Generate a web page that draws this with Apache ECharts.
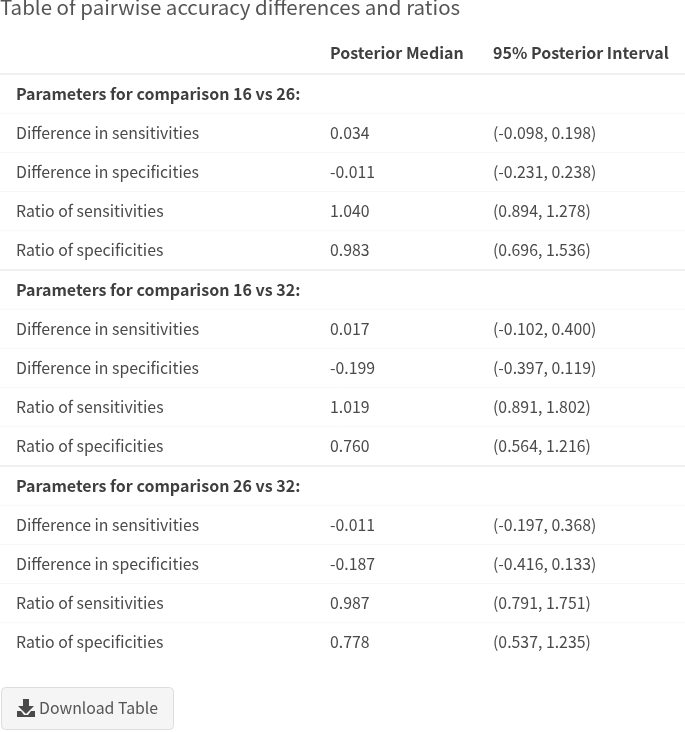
<!DOCTYPE html>
<html><head><meta charset="utf-8">
<style>html,body{margin:0;padding:0;background:#fff}#c{width:685px;height:732px}</style>
<script src="https://cdn.jsdelivr.net/npm/echarts@6/dist/echarts.min.js"></script>
</head><body><div id="c"></div>
<script>
const titleText = 'Table of pairwise accuracy differences and ratios';
const columnHeaders = ['', 'Posterior Median', '95% Posterior Interval'];
const rowLabels = [
  'Parameters for comparison 16 vs 26:',
  'Difference in sensitivities','Difference in specificities','Ratio of sensitivities','Ratio of specificities',
  'Parameters for comparison 16 vs 32:',
  'Difference in sensitivities','Difference in specificities','Ratio of sensitivities','Ratio of specificities',
  'Parameters for comparison 26 vs 32:',
  'Difference in sensitivities','Difference in specificities','Ratio of sensitivities','Ratio of specificities'
];
const medians = ['', '0.034','-0.011','1.040','0.983', '', '0.017','-0.199','1.019','0.760', '', '-0.011','-0.187','0.987','0.778'];
const intervals = ['', '(-0.098, 0.198)','(-0.231, 0.238)','(0.894, 1.278)','(0.696, 1.536)',
  '', '(-0.102, 0.400)','(-0.397, 0.119)','(0.891, 1.802)','(0.564, 1.216)',
  '', '(-0.197, 0.368)','(-0.416, 0.133)','(0.791, 1.751)','(0.537, 1.235)'];
const buttonText = 'Download Table';

const FONT = '"Noto Sans CJK SC","Source Sans Pro","Noto Sans",sans-serif';
const TXT = '#4a4a4a';
const colX = [16, 330, 493];
const rows = [columnHeaders].concat(rowLabels.map((l, i) => [l, medians[i], intervals[i]]));
const cats = rows.map((_, i) => 'r' + i);
const data = rows.map((r, i) => [i, r[0], r[1], r[2]]);

const chart = echarts.init(document.getElementById('c'), null, {renderer: 'canvas'});
chart.setOption({
  animation: false,
  backgroundColor: '#fff',
  title: {text: titleText, left: 0, top: -3, padding: 0,
    textStyle: {fontFamily: FONT, fontSize: 20.5, fontWeight: 400, color: '#555'}},
  grid: {left: 0, right: 0, top: 34.8, height: 627.2},
  xAxis: {type: 'value', min: 0, max: 685, show: false},
  yAxis: {type: 'category', data: cats, inverse: true, show: false},
  series: [{
    type: 'custom',
    coordinateSystem: 'cartesian2d',
    encode: {y: 0},
    silent: true,
    data: data,
    renderItem(params, api) {
      const i = params.dataIndex;
      const d = data[i];
      const c = api.coord([0, i]);
      const band = api.size([0, 1])[1];
      const bold = i === 0 || !d[2];
      const bottom = c[1] + band / 2;
      const children = [];
      const groupEnd = i === 0 || (i % 5 === 0);
      if (i < data.length - 1) {
        children.push({type: 'line', shape: {x1: 0, y1: bottom, x2: 685, y2: bottom},
          style: {stroke: groupEnd ? '#f0f0f0' : '#f6f6f6', lineWidth: groupEnd ? 2 : 1}});
      }
      [1, 2, 3].forEach(k => {
        if (!d[k]) return;
        children.push({type: 'text', style: {
          x: colX[k - 1], y: c[1] + (i === 0 ? -1 : 0), text: d[k], verticalAlign: 'middle', align: 'left',
          fontFamily: FONT, fontSize: bold ? 16 : 15.85, fontWeight: bold ? 700 : 400, fill: bold ? '#3f3f3f' : TXT
        }});
      });
      return {type: 'group', children};
    }
  }],
  graphic: [
    {type: 'rect', shape: {x: 1.5, y: 687.5, width: 172, height: 42, r: 4},
      style: {fill: '#f5f5f5', stroke: '#dddddd', lineWidth: 1}},
    {type: 'polygon', shape: {points: [[23,699],[29,699],[29,706],[34,706],[26,714],[18,706],[23,706]]},
      style: {fill: '#4a4a4a'}},
    {type: 'polygon', shape: {points: [[17,711],[21,711],[24,715],[28,715],[31,711],[35,711],[35,717],[17,717]]},
      style: {fill: '#4a4a4a'}},
    {type: 'text', x: 39, y: 700, style: {text: buttonText, fontFamily: FONT, fontSize: 15.85, fill: '#555'}}
  ]
});
</script></body></html>
